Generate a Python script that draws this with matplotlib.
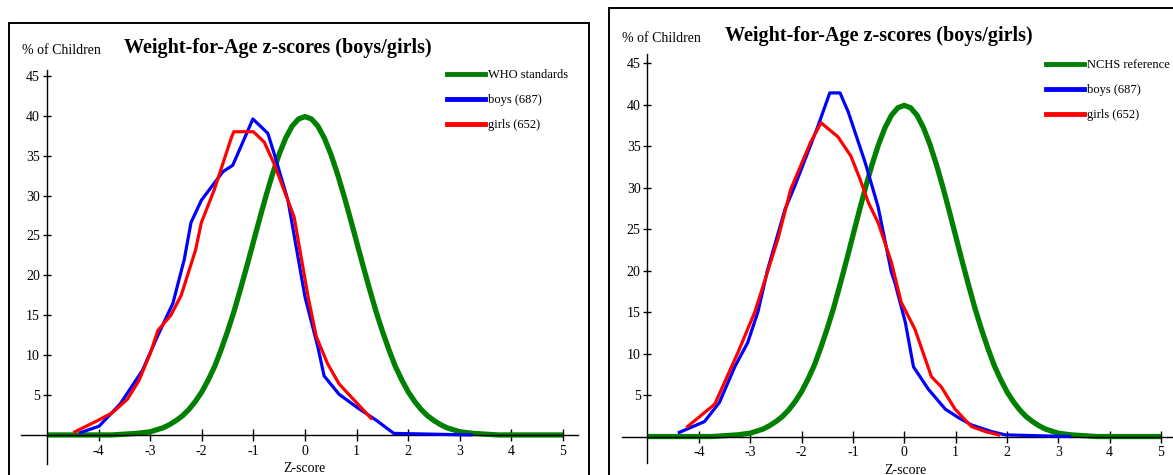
import matplotlib
matplotlib.use("Agg")
import matplotlib.pyplot as plt
from matplotlib.lines import Line2D
from matplotlib.patches import Rectangle

plt.rcParams["axes.unicode_minus"] = False

# reference curve (both panels)
REF_Z = [-5.0, -4.0, -3.75, -3.5, -3.25, -3.0, -2.75, -2.625, -2.5, -2.375, -2.25, -2.125,
         -2.0, -1.875, -1.75, -1.625, -1.5, -1.375, -1.25, -1.125, -1.0, -0.875,
         -0.75, -0.625, -0.5, -0.375, -0.25, -0.125, 0.0, 0.125, 0.25, 0.375, 0.5,
         0.625, 0.75, 0.875, 1.0, 1.125, 1.25, 1.375, 1.5, 1.625, 1.75, 1.875, 2.0,
         2.125, 2.25, 2.375, 2.5, 2.625, 2.75, 3.0, 3.25, 3.5, 3.75, 4.0, 5.0]
REF_Y = [0.0, 0.0, 0.0, 0.1, 0.2, 0.4, 0.9, 1.3, 1.8, 2.4, 3.2, 4.2,
         5.4, 6.9, 8.6, 10.7, 13.0, 15.5, 18.3, 21.2, 24.2, 27.2,
         30.1, 32.8, 35.2, 37.2, 38.7, 39.6, 39.9, 39.6, 38.7, 37.2, 35.2,
         32.8, 30.1, 27.2, 24.2, 21.2, 18.3, 15.5, 13.0, 10.7, 8.6, 6.9, 5.4,
         4.2, 3.2, 2.4, 1.8, 1.3, 0.9, 0.4, 0.2, 0.1, 0.0, 0.0, 0.0]

# left panel (WHO standards)
WHO_BOYS_Z = [-4.35, -3.99, -3.58, -3.15, -2.85, -2.56, -2.34, -2.21, -2.01, -1.59,
              -1.40, -1.01, -0.72, -0.60, -0.33, 0.0, 0.25, 0.37, 0.66, 1.02, 1.39,
              1.72, 3.22]
WHO_BOYS_Y = [0.3, 1.1, 3.9, 8.1, 12.5, 16.5, 22.0, 26.6, 29.4, 33.0,
              33.8, 39.6, 37.8, 35.3, 29.4, 17.3, 11.0, 7.4, 5.1, 3.4, 1.8,
              0.2, 0.0]
WHO_GIRLS_Z = [-4.46, -4.02, -3.73, -3.44, -3.22, -3.0, -2.85, -2.6, -2.40, -2.12,
               -2.01, -1.76, -1.43, -1.38, -1.0, -0.79, -0.6, -0.21, 0.06, 0.22,
               0.44, 0.66, 1.02, 1.28]
WHO_GIRLS_Y = [0.4, 1.8, 2.8, 4.5, 6.8, 10.2, 13.1, 15.0, 17.5, 23.2,
               26.6, 30.7, 37.2, 38.0, 38.0, 36.7, 34.0, 27.3, 17.3, 12.3,
               8.9, 6.4, 3.9, 2.1]

# right panel (NCHS reference)
NCHS_BOYS_Z = [-4.38, -3.89, -3.6, -3.3, -3.05, -2.85, -2.66, -2.6, -2.32, -2.13,
               -1.68, -1.45, -1.25, -1.09, -0.76, -0.51, -0.25, -0.18, 0.02, 0.18,
               0.47, 0.8, 1.05, 1.31, 1.7, 1.97, 3.22]
NCHS_BOYS_Y = [0.5, 1.8, 4.1, 8.4, 11.3, 15.0, 20.1, 21.4, 27.4, 30.2,
               37.4, 41.4, 41.4, 39.1, 33.0, 27.7, 19.8, 18.5, 13.8, 8.4,
               5.7, 3.3, 2.3, 1.4, 0.6, 0.2, 0.0]
NCHS_GIRLS_Z = [-4.22, -3.69, -3.24, -2.91, -2.71, -2.46, -2.21, -1.82, -1.62, -1.29,
                -1.04, -0.86, -0.70, -0.51, -0.25, -0.06, 0.21, 0.53, 0.72, 0.99,
                1.31, 1.58, 1.84]
NCHS_GIRLS_Y = [1.2, 3.9, 10.1, 15.0, 18.9, 23.8, 29.8, 35.5, 37.8, 36.1,
                33.8, 31.0, 28.2, 25.8, 21.0, 16.2, 12.9, 7.2, 6.0, 3.3,
                1.2, 0.6, 0.2]

X_TICKS = [-4, -3, -2, -1, 0, 1, 2, 3, 4, 5]
Y_TICKS = [5, 10, 15, 20, 25, 30, 35, 40, 45]
TITLE = "Weight-for-Age z-scores (boys/girls)"
LABELS_LEFT = ["WHO standards", "boys (687)", "girls (652)"]
LABELS_RIGHT = ["NCHS reference", "boys (687)", "girls (652)"]

GREEN, BLUE, RED = "#008000", "#0000ff", "#ff0000"
SERIF = "Liberation Serif"

W, H = 1173, 475
fig = plt.figure(figsize=(W / 100, H / 100), dpi=100)


def fx(px):
    return px / W


def fy(py):
    return 1 - py / H


def panel(rect, xlim, ylim, boys, girls, labels, frame, title_xy, ylab_xy, zlab_xy, leg_xy):
    # outer box around the panel
    fig.add_artist(Rectangle((fx(frame[0]), fy(frame[1] + frame[3])),
                             frame[2] / W, frame[3] / H, transform=fig.transFigure,
                             fill=False, ec="black", lw=1.4, clip_on=False))
    ax = fig.add_axes(rect)
    ax.set_xlim(*xlim)
    ax.set_ylim(*ylim)
    ax.plot(REF_Z, REF_Y, color=GREEN, lw=3.8, solid_capstyle="butt", zorder=2)
    ax.plot(boys[0], boys[1], color=BLUE, lw=2.3, zorder=3)
    ax.plot(girls[0], girls[1], color=RED, lw=2.3, zorder=3)

    for s in ["top", "right"]:
        ax.spines[s].set_visible(False)
    ax.spines["left"].set_position(("data", -5))
    ax.spines["bottom"].set_position(("data", 0))
    for s in ["left", "bottom"]:
        ax.spines[s].set_linewidth(1.0)
    ax.set_xticks(X_TICKS)
    ax.set_yticks(Y_TICKS)
    ax.tick_params(axis="x", direction="inout", length=8, width=1.0, pad=3, labelsize=10)
    ax.tick_params(axis="y", direction="inout", length=6, width=1.0, pad=2, labelsize=10)
    for t in ax.get_xticklabels() + ax.get_yticklabels():
        t.set_family(SERIF)
    ax.patch.set_alpha(0)

    fig.text(fx(title_xy[0]), fy(title_xy[1]), TITLE, ha="center", va="center",
             family=SERIF, fontweight="bold", fontsize=14.5)
    fig.text(fx(ylab_xy[0]), fy(ylab_xy[1]), "% of Children", ha="left", va="center",
             family=SERIF, fontsize=10)
    fig.text(fx(zlab_xy[0]), fy(zlab_xy[1]), "Z-score", ha="center", va="center",
             family=SERIF, fontsize=10)

    handles = [Line2D([], [], color=c, lw=3.5) for c in [GREEN, BLUE, RED]]
    fig.legend(handles, labels, loc="upper left", bbox_to_anchor=(fx(leg_xy[0]), fy(leg_xy[1])),
               frameon=False, prop={"family": SERIF, "size": 9}, handlelength=3.0,
               handletextpad=0.3, labelspacing=1.05, borderpad=0, borderaxespad=0)
    return ax


panel([fx(21.2), fy(463.7), 557.3 / W, 394.2 / H], (-5.5, 5.3), (-3.6, 45.8),
      (WHO_BOYS_Z, WHO_BOYS_Y), (WHO_GIRLS_Z, WHO_GIRLS_Y), LABELS_LEFT,
      (9, 23, 580, 470), (278, 48), (22, 51), (304, 468), (447, 69))

panel([fx(621.8), fy(463.1), 554.6 / W, 409.2 / H], (-5.5, 5.3), (-3.2, 46.1),
      (NCHS_BOYS_Z, NCHS_BOYS_Y), (NCHS_GIRLS_Z, NCHS_GIRLS_Y), LABELS_RIGHT,
      (609, 8, 600, 480), (879, 36), (622, 39), (905, 470), (1046, 59))

fig.savefig("out.png", dpi=100)
